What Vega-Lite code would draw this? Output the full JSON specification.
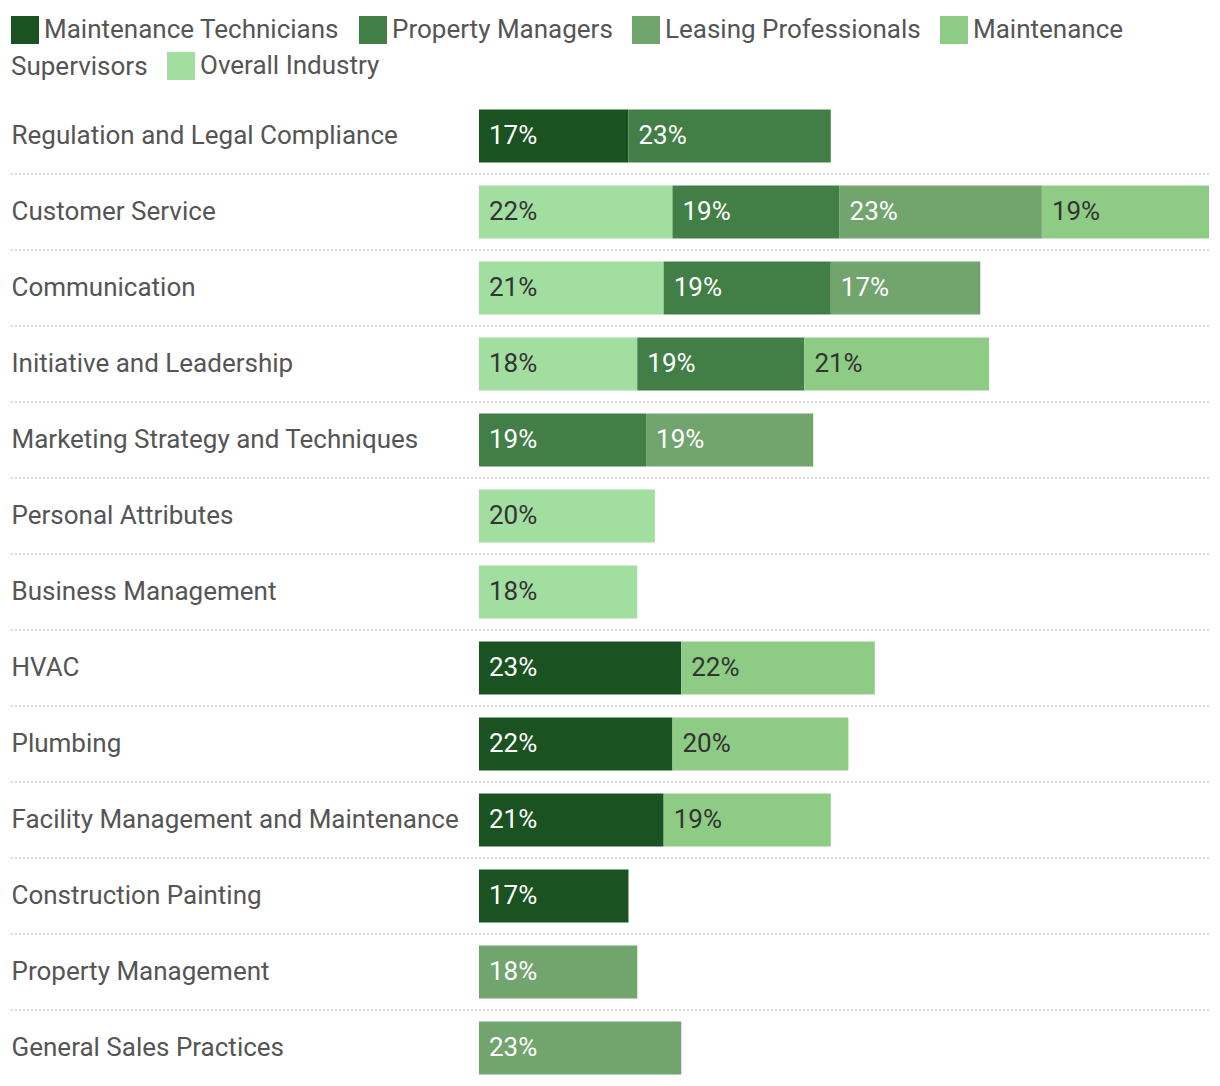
{
  "$schema": "https://vega.github.io/schema/vega-lite/v6.json",
  "width": 1198,
  "height": 988,
  "padding": {"left": 10, "top": 16, "right": 12, "bottom": 0},
  "autosize": {"type": "pad"},
  "config": {"view": {"stroke": null}, "font": "Roboto", "background": "white"},
  "data": {
    "values": [
      {"skill": "Regulation and Legal Compliance", "series": "Maintenance Technicians", "value": 17},
      {"skill": "Regulation and Legal Compliance", "series": "Property Managers", "value": 23},
      {"skill": "Customer Service", "series": "Overall Industry", "value": 22},
      {"skill": "Customer Service", "series": "Property Managers", "value": 19},
      {"skill": "Customer Service", "series": "Leasing Professionals", "value": 23},
      {"skill": "Customer Service", "series": "Maintenance Supervisors", "value": 19},
      {"skill": "Communication", "series": "Overall Industry", "value": 21},
      {"skill": "Communication", "series": "Property Managers", "value": 19},
      {"skill": "Communication", "series": "Leasing Professionals", "value": 17},
      {"skill": "Initiative and Leadership", "series": "Overall Industry", "value": 18},
      {"skill": "Initiative and Leadership", "series": "Property Managers", "value": 19},
      {"skill": "Initiative and Leadership", "series": "Maintenance Supervisors", "value": 21},
      {"skill": "Marketing Strategy and Techniques", "series": "Property Managers", "value": 19},
      {"skill": "Marketing Strategy and Techniques", "series": "Leasing Professionals", "value": 19},
      {"skill": "Personal Attributes", "series": "Overall Industry", "value": 20},
      {"skill": "Business Management", "series": "Overall Industry", "value": 18},
      {"skill": "HVAC", "series": "Maintenance Technicians", "value": 23},
      {"skill": "HVAC", "series": "Maintenance Supervisors", "value": 22},
      {"skill": "Plumbing", "series": "Maintenance Technicians", "value": 22},
      {"skill": "Plumbing", "series": "Maintenance Supervisors", "value": 20},
      {"skill": "Facility Management and Maintenance", "series": "Maintenance Technicians", "value": 21},
      {"skill": "Facility Management and Maintenance", "series": "Maintenance Supervisors", "value": 19},
      {"skill": "Construction Painting", "series": "Maintenance Technicians", "value": 17},
      {"skill": "Property Management", "series": "Leasing Professionals", "value": 18},
      {"skill": "General Sales Practices", "series": "Leasing Professionals", "value": 23}
    ]
  },
  "transform": [
    {"calculate": "indexof(['Overall Industry','Maintenance Technicians','Property Managers','Leasing Professionals','Maintenance Supervisors'], datum.series)", "as": "ord"},
    {"calculate": "datum.value + '%'", "as": "label"},
    {"stack": "value", "groupby": ["skill"], "sort": [{"field": "ord", "order": "ascending"}], "as": ["x0", "x1"]}
  ],
  "layer": [
    {
      "mark": {"type": "bar", "height": {"band": 0.7}},
      "encoding": {
        "y": {
          "field": "skill", "type": "nominal",
          "sort": ["Regulation and Legal Compliance", "Customer Service", "Communication", "Initiative and Leadership", "Marketing Strategy and Techniques", "Personal Attributes", "Business Management", "HVAC", "Plumbing", "Facility Management and Maintenance", "Construction Painting", "Property Management", "General Sales Practices"],
          "scale": {"paddingInner": 0, "paddingOuter": 0},
          "axis": {"title": null, "domain": false, "ticks": false, "tickSize": 0, "grid": false, "labelAlign": "left", "labelPadding": 0, "labelFontSize": 26, "labelColor": "#555555", "labelFont": "Roboto", "labelLimit": 600, "labelOverlap": false, "labelBound": false}
        },
        "x": {"field": "x0", "type": "quantitative", "scale": {"domain": [-53.2, 83], "nice": false, "zero": false}, "axis": null},
        "x2": {"field": "x1"},
        "color": {
          "field": "series", "type": "nominal",
          "scale": {
            "domain": ["Maintenance Technicians", "Property Managers", "Leasing Professionals", "Maintenance Supervisors", "Overall Industry"],
            "range": ["#1a5222", "#427f47", "#72a46e", "#8ecb85", "#a2dea0"]
          },
          "legend": {
            "title": null, "orient": "none", "legendX": 0, "legendY": -82, "direction": "horizontal", "columns": 4,
            "values": ["Maintenance Technicians", "Property Managers", "Leasing Professionals", "Maintenance Supervisors"],
            "symbolType": "square", "symbolSize": 784,
            "symbolStrokeWidth": 0, "labelFontSize": 26, "labelColor": "#555555", "labelFont": "Roboto",
            "columnPadding": 19, "labelOffset": 5, "labelLimit": 600, "padding": 0,
            "labelExpr": "datum.label == 'Maintenance Supervisors' ? 'Maintenance' : datum.label"
          }
        }
      }
    },
    {
      "transform": [
        {"aggregate": [{"op": "count", "as": "n"}], "groupby": ["skill"]},
        {"filter": "datum.skill != 'General Sales Practices'"}
      ],
      "mark": {"type": "rule", "color": "#d0d0d0", "strokeWidth": 1.5, "strokeDash": [2, 2]},
      "encoding": {
        "y": {
          "field": "skill", "type": "nominal", "bandPosition": 1,
          "sort": ["Regulation and Legal Compliance", "Customer Service", "Communication", "Initiative and Leadership", "Marketing Strategy and Techniques", "Personal Attributes", "Business Management", "HVAC", "Plumbing", "Facility Management and Maintenance", "Construction Painting", "Property Management", "General Sales Practices"],
          "axis": {"title": null, "domain": false, "ticks": false, "tickSize": 0, "grid": false, "labelAlign": "left", "labelPadding": 0, "labelFontSize": 26, "labelColor": "#555555", "labelFont": "Roboto", "labelLimit": 600, "labelOverlap": false, "labelBound": false}
        }
      }
    },
    {
      "mark": {"type": "text", "align": "left", "dx": 10, "fontSize": 26, "font": "Roboto"},
      "encoding": {
        "y": {
          "field": "skill", "type": "nominal",
          "sort": ["Regulation and Legal Compliance", "Customer Service", "Communication", "Initiative and Leadership", "Marketing Strategy and Techniques", "Personal Attributes", "Business Management", "HVAC", "Plumbing", "Facility Management and Maintenance", "Construction Painting", "Property Management", "General Sales Practices"]
        },
        "x": {"field": "x0", "type": "quantitative"},
        "text": {"field": "label"},
        "color": {
          "condition": {"test": "datum.series == 'Maintenance Supervisors' || datum.series == 'Overall Industry'", "value": "#333333"},
          "value": "#ffffff"
        }
      }
    },
    {
      "transform": [
        {"filter": "datum.series == 'Maintenance Supervisors' || datum.series == 'Overall Industry'"}
      ],
      "mark": {"type": "text", "text": ""},
      "encoding": {
        "y": {
          "field": "skill", "type": "nominal",
          "sort": ["Regulation and Legal Compliance", "Customer Service", "Communication", "Initiative and Leadership", "Marketing Strategy and Techniques", "Personal Attributes", "Business Management", "HVAC", "Plumbing", "Facility Management and Maintenance", "Construction Painting", "Property Management", "General Sales Practices"]
        },
        "x": {"field": "x0", "type": "quantitative"},
        "fill": {
          "field": "series", "type": "nominal",
          "scale": {"domain": ["Maintenance Supervisors", "Overall Industry"], "range": ["rgba(255,255,255,0)", "#a2dea0"]},
          "legend": {
            "title": null, "orient": "none", "legendX": 0, "legendY": -46, "direction": "horizontal", "columns": 2,
            "symbolType": "square", "symbolSize": 784, "symbolStrokeWidth": 0, "symbolOpacity": 1,
            "labelFontSize": 26, "labelColor": "#555555", "labelFont": "Roboto",
            "columnPadding": 19, "labelOffset": 5, "labelLimit": 600, "padding": 0,
            "labelExpr": "datum.label == 'Maintenance Supervisors' ? 'Supervisors' : datum.label",
            "encode": {
              "labels": {"update": {"dx": {"signal": "datum.value === 'Maintenance Supervisors' ? -33 : 0"}}},
              "symbols": {"update": {"size": {"signal": "datum.value === 'Maintenance Supervisors' ? 0 : 784"}}}
            }
          }
        }
      }
    }
  ]
}
